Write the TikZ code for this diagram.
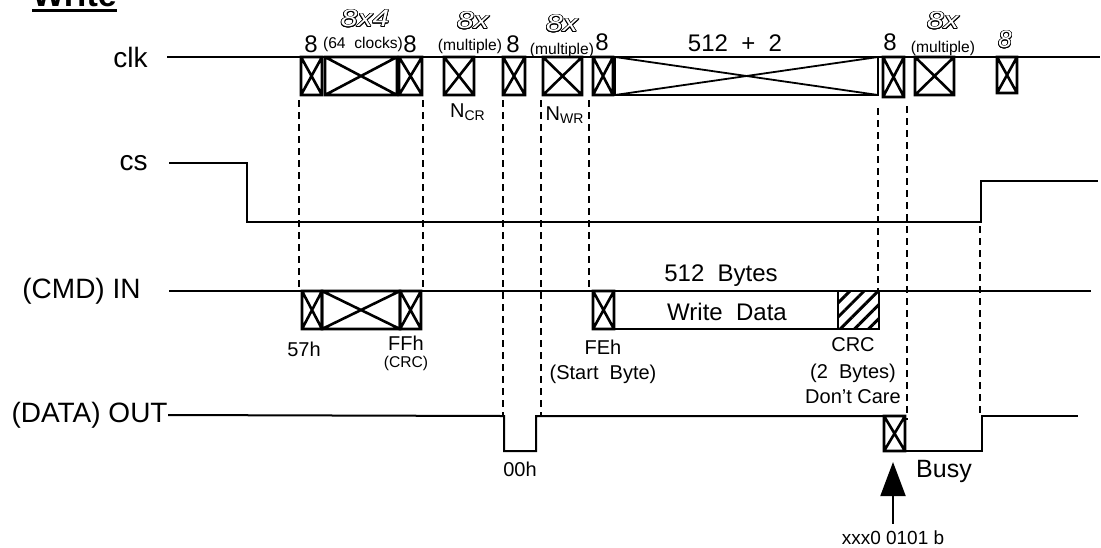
\documentclass[tikz,border=0pt]{standalone}
\usepackage{fontspec}
\setmainfont{Liberation Sans}
\usepackage{contour}
\contourlength{0.3pt}
\usetikzlibrary{arrows.meta,patterns.meta}

\newcommand{\hollow}[1]{\scalebox{1.25}[1]{\contour{black}{\textcolor{white}{\itshape #1}}}}

\begin{document}
\begin{tikzpicture}[x=0.5pt,y=-0.5pt,
    sig/.style={line width=1pt},
    xbox/.style={line width=1.3pt},
    guide/.style={line width=1.2pt,dash pattern=on 3.5pt off 2.5pt},
    siglbl/.style={font=\fontsize{14}{16}\selectfont,anchor=east,inner sep=0pt},
    cnt/.style={font=\fontsize{12}{14}\selectfont,inner sep=0pt},
    hcnt/.style={font=\fontsize{12}{14}\selectfont,inner sep=0pt},
    bigcnt/.style={font=\fontsize{12}{14}\selectfont,inner sep=0pt},
    mini/.style={font=\fontsize{7.8}{9}\selectfont,inner sep=0pt},
    note/.style={font=\fontsize{10}{12}\selectfont,inner sep=0pt}]
\useasboundingbox (0,0) rectangle (1101,547);

% title
\node[anchor=base west,inner sep=0pt,font=\fontsize{17}{20}\selectfont\bfseries] (title) at (32,6) {Write};
\draw[line width=1.5pt] ([yshift=-2pt]title.base west) -- ([yshift=-2pt]title.base east);

% signal names
\node[siglbl] (clk) at (148,57) {clk};
\node[siglbl] (cs) at (148,163) {cs};
\node[siglbl] (cmdin) at (141,291) {(CMD) IN};
\node[siglbl] (dataout) at (168,415) {(DATA) OUT};

% signal lines
\draw[sig] (clk.east) ++(19,0) -- (1100,57);
\draw[sig] (169,163) -- (247,163) -- (247,222) -- (981,222) -- (981,181) -- (1098,181);
\draw[sig] (169,291) -- (1091,291);
\draw[sig] (dataout.east) -- (504,416) -- (504,451) -- (536,451) -- (536,416) -- (884,416);
\draw[sig] (905,451) -- (982,451) -- (982,416) -- (1078,416);

% clk boxes
\foreach \l/\r/\b in {301/322/95,325/397/95,399/422/95,444/474/95,503/525/95,543/582/95,593/613/95,883/904/97,915/954/95,997/1017/93}
  \draw[xbox] (\l,57) rectangle (\r,\b) (\l,57) -- (\r,\b) (\l,\b) -- (\r,57);
\draw[line width=1pt] (615,57) rectangle (878,95);
\draw[line width=0.9pt] (615,57) -- (878,95) (615,95) -- (878,57);

% command and data boxes
\foreach \l/\r in {302/322,322/400,400/421,593/614}
  \draw[xbox] (\l,291) rectangle (\r,329) (\l,291) -- (\r,329) (\l,329) -- (\r,291);
\draw[xbox] (614,291) rectangle (838,329);
\draw[xbox,pattern={Lines[angle=45,distance=5pt,line width=1.5pt]}] (838,291) rectangle (879,329);
\draw[xbox] (884,416) rectangle (905,451) (884,416) -- (905,451) (884,451) -- (905,416);

% guides
\foreach \x/\a/\b in {299/100/291,423/100/291,503/100/416,541/100/416,589/100/291,878/108/291,907/106/420,980/226/416}
  \draw[guide] (\x,\a) -- (\x,\b);

% clock counts
\node[cnt] (c1) at (311,44) {8};
\node[mini] (c64) at (363,44) {(64\ \ clocks)};
\node[cnt] (c2) at (410,44) {8};
\node[hcnt] (c3) at (365,19) {\hollow{8x4}};
\node[hcnt] (c4) at (473,21) {\hollow{8x}};
\node[mini] (m1) at (470,46) {(multiple)};
\node[cnt] (c5) at (513,44) {8};
\node[hcnt] (c6) at (562,24) {\hollow{8x}};
\node[mini] (m2) at (562,50) {(multiple)};
\node[cnt] (c7) at (602,42) {8};
\node[bigcnt] (c8) at (735,43) {512\ \ +\ \ 2};
\node[cnt] (c9) at (890,42) {8};
\node[hcnt] (c10) at (943,21) {\hollow{8x}};
\node[mini] (m3) at (943,48) {(multiple)};
\node[hcnt] (c11) at (1005,40) {\contour{black}{\textcolor{white}{\itshape 8}}};
\node[note] (ncr) at (468,112) {N\textsubscript{CR}};
\node[note] (nwr) at (565,115) {N\textsubscript{WR}};

% command and data labels
\node[note] (t57) at (304,349) {57h};
\node[note] (tff) at (406,343) {FFh};
\node[mini] (tcrc) at (406,363) {(CRC)};
\node[bigcnt] (bytes) at (721,276) {512\ \ Bytes};
\node[bigcnt] (wdata) at (727,312) {Write\ \ Data};
\node[note] (tfe) at (603,347) {FEh};
\node[note] (start) at (603,374) {(Start\ \ Byte)};
\node[note] (crc) at (853,345) {CRC};
\node[note] (twob) at (853,373) {(2\ \ Bytes)};
\node[note] (dc) at (853,397) {Don't Care};

% response
\node[note] (t00) at (520,469) {00h};
\node[font=\fontsize{12.5}{15}\selectfont,inner sep=0pt] (busy) at (944,471) {Busy};
\node[font=\fontsize{9.5}{11}\selectfont,inner sep=0pt] (code) at (893,538) {xxx0 0101 b};
\coordinate (resp) at (893,451);
\draw[line width=1pt,-{Triangle[length=17pt,width=12.5pt]}] ([yshift=3.5pt]code.north) -- ([yshift=-5.5pt]resp);
\end{tikzpicture}
\end{document}
